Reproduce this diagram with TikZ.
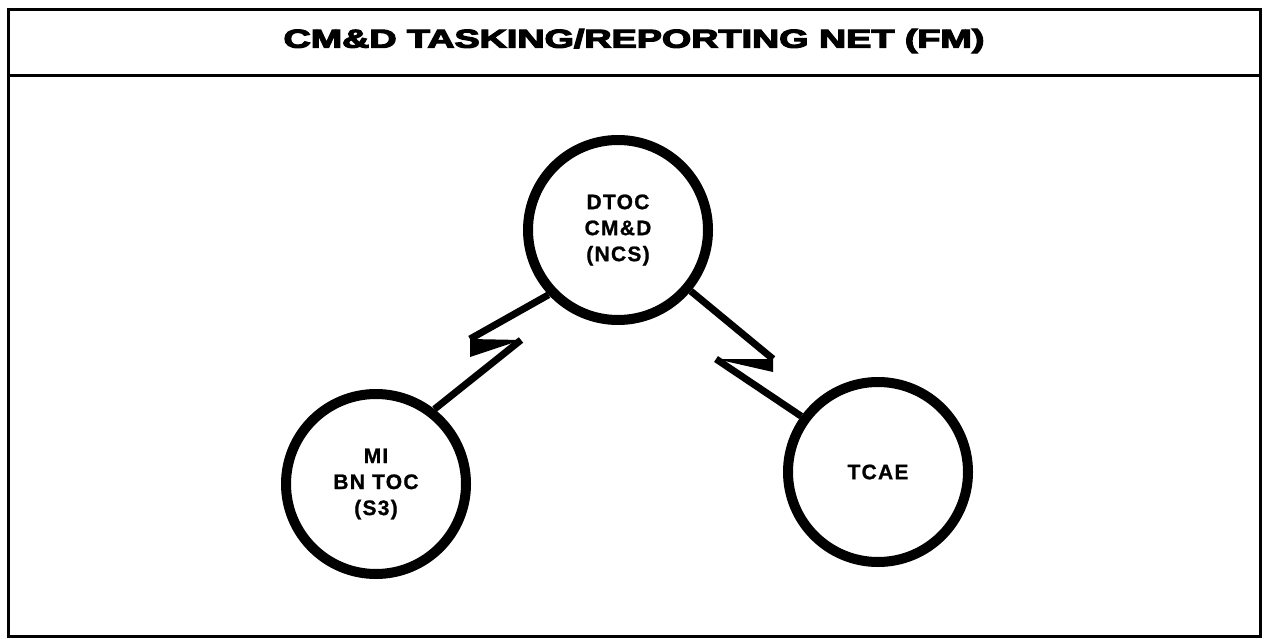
\documentclass[tikz,border=0pt]{standalone}
\usepackage{fontspec}
\setmainfont{Liberation Sans}
\newfontfamily\titlefont[BoldFeatures={FakeBold=4}]{Liberation Sans}
\newfontfamily\stationfont[LetterSpace=6,BoldFeatures={FakeBold=1}]{Liberation Sans}
\begin{document}
\begin{tikzpicture}[x=1pt,y=-1pt,
  station/.style={circle,draw,line width=10pt,minimum size=180pt,inner sep=0pt,
    align=center,font=\stationfont\fontsize{21}{26}\selectfont\bfseries},
  conn/.style={line width=7pt,line join=miter},
  frame/.style={line width=3pt}]
\useasboundingbox (0,0) rectangle (1265,639);
\draw[frame] (8,10) rectangle (1260,636);
\draw[frame] (8,76) -- (1260,76);
\node (title) at (634,41) {\scalebox{1.45}[1]{\titlefont\bfseries\fontsize{26}{30}\selectfont CM\&D TASKING/REPORTING NET (FM)}};
\node[station] (top) at (618,230) {DTOC\\CM\&D\\(NCS)};
\node[station] (mi) at (376,484) {MI\\BN TOC\\(S3)};
\node[station] (tcae) at (878,472) {TCAE};
% left bolt
\coordinate (l1) at (470,339);
\coordinate (l2) at (521,340);
\coordinate (l3) at (470,357);
\draw[conn] (top.223) -- (l1);
\fill (l1) -- (l2) -- (l3) -- cycle;
\draw[conn] (l2) -- (mi.52);
% right bolt
\coordinate (r1) at (773,359);
\coordinate (r2) at (716,359);
\coordinate (r3) at (773,372);
\draw[conn] (top.320) -- (r1);
\fill (r1) -- (r2) -- (r3) -- cycle;
\draw[conn] (r2) -- (tcae.144);
\end{tikzpicture}
\end{document}
